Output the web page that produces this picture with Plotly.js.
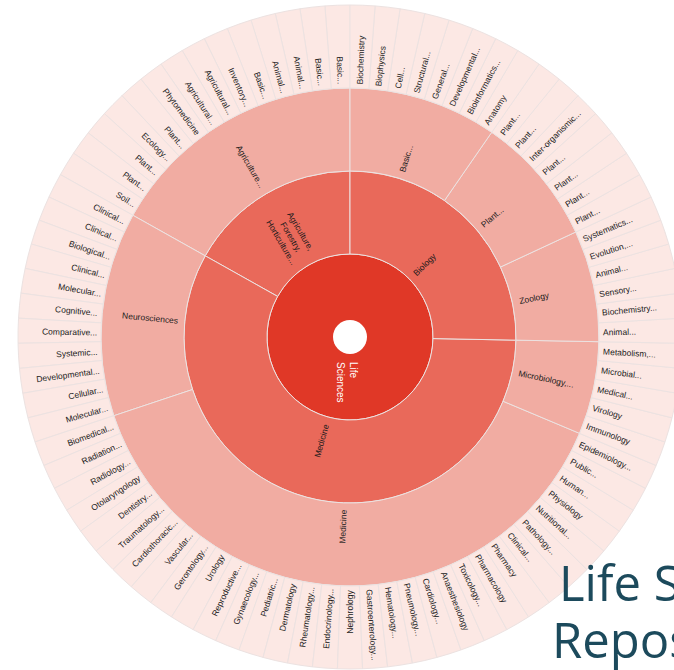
<!DOCTYPE html>
<html>
<head>
<meta charset="utf-8">
<script src="https://cdn.plot.ly/plotly-3.0.1.min.js"></script>
<style>
  html, body { margin: 0; padding: 0; overflow: hidden; background: #ffffff; }
  #chart { width: 700px; height: 670px; }
</style>
</head>
<body>
<div id="chart"></div>
<script>
// ---- data (listed clockwise from 12 o'clock) ----
const rootLabel = "Life Sciences";
const level1 = ["Biology", "Medicine", "Agriculture,<br>Forestry,<br>Horticulture..."];

const biologyFields = ["Basic...", "Plant...", "Zoology"];
const medicineFields = ["Microbiology,...", "Medicine", "Neurosciences"];
const agricultureFields = ["Agriculture..."];

const basicBiology = ["Biochemistry", "Biophysics", "Cell...", "Structural...", "General...",
  "Developmental...", "Bioinformatics...", "Anatomy"];
const plantBiology = ["Plant...", "Plant...", "Inter-organismic...", "Plant...", "Plant...", "Plant...", "Plant..."];
const zoology = ["Systematics...", "Evolution,...", "Animal...", "Sensory...", "Biochemistry...", "Animal..."];
const microbiology = ["Metabolism,...", "Microbial...", "Medical...", "Virology", "Immunology"];
const medicine = ["Epidemiology...", "Public...", "Human...", "Physiology", "Nutritional...", "Pathology...",
  "Clinical...", "Pharmacy", "Pharmacology", "Toxicology...", "Anaesthesiology", "Cardiology...",
  "Pneumology...", "Hematology...", "Gastroenterology...", "Nephrology", "Endocrinology...",
  "Rheumatology...", "Dermatology", "Pediatric...", "Gynaecology...", "Reproductive...", "Urology",
  "Gerontology...", "Vascular...", "Cardiothoracic...", "Traumatology...", "Dentistry...",
  "Otolaryngology", "Radiology...", "Radiation...", "Biomedical..."];
const neurosciences = ["Molecular...", "Cellular...", "Developmental...", "Systemic...", "Comparative...",
  "Cognitive...", "Molecular...", "Clinical...", "Biological...", "Clinical...", "Clinical..."];
const agriculture = ["Soil...", "Plant...", "Plant...", "Ecology...", "Plant...", "Phytomedicine",
  "Agricultural...", "Agricultural...", "Inventory...", "Basic...", "Animal...", "Animal...", "Basic...", "Basic..."];

const level2Groups = [biologyFields, medicineFields, agricultureFields];
const leafGroups = [[basicBiology, plantBiology, zoology], [microbiology, medicine, neurosciences], [agriculture]];

// ---- styles ----
const depthColors = ["#e03827", "#e9695a", "#f1aca2", "#fce8e4"];
const labelFamily = "Liberation Sans, Arial, sans-serif";
const labelSize = 8.5;
const labelColor = "#1a1a1a";

// ---- build hierarchy (Plotly lays sectors counterclockwise, so add in reverse order) ----
const ids = [], labels = [], parents = [], depths = [];
function add(id, label, parent, depth) { ids.push(id); labels.push(label); parents.push(parent); depths.push(depth); }
const rev = a => a.map((v, i) => i).reverse();
add("root", rootLabel, "", 0);
rev(level1).forEach(i => {
  const id1 = "L1_" + i;
  add(id1, level1[i], "root", 1);
  rev(level2Groups[i]).forEach(j => {
    const id2 = id1 + "_" + j;
    add(id2, level2Groups[i][j], id1, 2);
    const leaves = leafGroups[i][j];
    rev(leaves).forEach(k => add(id2 + "_" + k, leaves[k], id2, 3));
  });
});
const colors = depths.map(d => depthColors[d]);

// ---- geometry ----
const W = 700, H = 670;
const mL = 18, mT = 5, mB = 1, mR = 0;
const R = 332;
const plotW = W - mL - mR, plotH = H - mT - mB;
const dom = [0, (2 * R) / plotW];
const cxPaper = (dom[0] + dom[1]) / 2;
const cxPx = mL + R, cyPx = mT + plotH / 2;
const px2x = px => (px - mL) / plotW;
const py2y = py => 1 - (py - mT) / plotH;
const ringInner = d => R * d / 4;
const ringPad = [0, 8, 7, 4];

// ---- labels anchored at the inner edge of each ring, radially oriented ----
const ctx = document.createElement("canvas").getContext("2d");
ctx.font = labelSize + "px 'Liberation Sans'";
const textWidth = t => Math.max(...t.split("<br>").map(s => ctx.measureText(s).width));

const nLeaves = leafGroups.flat().reduce((s, a) => s + a.length, 0);
const step = 360 / nLeaves;
const labelNodes = [];
let leafIdx = 0;
level1.forEach((l1, i) => {
  const s1 = leafIdx;
  level2Groups[i].forEach((l2, j) => {
    const s2 = leafIdx;
    leafGroups[i][j].forEach(leaf => { labelNodes.push({ t: leaf, d: 3, th: (leafIdx + 0.5) * step }); leafIdx++; });
    labelNodes.push({ t: l2, d: 2, th: (s2 + leafIdx) / 2 * step });
  });
  labelNodes.push({ t: l1, d: 1, th: (s1 + leafIdx) / 2 * step });
});

const labelAnnotations = labelNodes.map(n => {
  const r = ringInner(n.d) + ringPad[n.d] + textWidth(n.t) / 2;
  const rad = n.th * Math.PI / 180;
  const px = cxPx + r * Math.sin(rad), py = cyPx - r * Math.cos(rad);
  const ang = n.th < 180 ? n.th - 90 : n.th - 270;
  return {
    xref: "paper", yref: "paper", x: px2x(px), y: py2y(py),
    xanchor: "center", yanchor: "middle", align: "center",
    text: n.t, textangle: ang, showarrow: false, borderpad: 0,
    font: { family: labelFamily, size: labelSize, color: labelColor }
  };
});

const trace = {
  type: "sunburst",
  ids: ids,
  labels: labels,
  parents: parents,
  textinfo: "none",
  sort: false,
  rotation: 90,
  domain: { x: dom, y: [0, 1] },
  marker: { colors: colors, line: { color: "#ece2e1", width: 1 } },
  leaf: { opacity: 1 },
  hoverinfo: "label"
};

const titleFont = { family: "Open Sans, Noto Sans, sans-serif", size: 49, color: "#1c4a5c" };

const layout = {
  width: W, height: H,
  margin: { l: mL, r: mR, t: mT, b: mB, pad: 0 },
  paper_bgcolor: "#ffffff",
  showlegend: false,
  shapes: [{
    type: "circle", layer: "above",
    xref: "paper", yref: "paper",
    xsizemode: "pixel", ysizemode: "pixel",
    xanchor: cxPaper, yanchor: 0.5,
    x0: -17, x1: 17, y0: -17, y1: 17,
    fillcolor: "#ffffff", line: { width: 0 }
  }],
  annotations: labelAnnotations.concat([
    {
      xref: "paper", yref: "paper",
      x: px2x(347), y: py2y(382),
      text: "Life<br>Sciences", textangle: 90, showarrow: false, align: "left",
      font: { family: labelFamily, size: 10, color: "#ffffff" }
    },
    {
      xref: "paper", yref: "paper",
      x: px2x(557), y: py2y(582),
      xanchor: "left", yanchor: "middle", align: "left",
      text: "Life Sciences", showarrow: false, font: titleFont
    },
    {
      xref: "paper", yref: "paper",
      x: px2x(550), y: py2y(639),
      xanchor: "left", yanchor: "middle", align: "left",
      text: "Repositories", showarrow: false, font: titleFont
    }
  ])
};

Plotly.newPlot("chart", [trace], layout, { displayModeBar: false, staticPlot: true });
</script>
</body>
</html>
